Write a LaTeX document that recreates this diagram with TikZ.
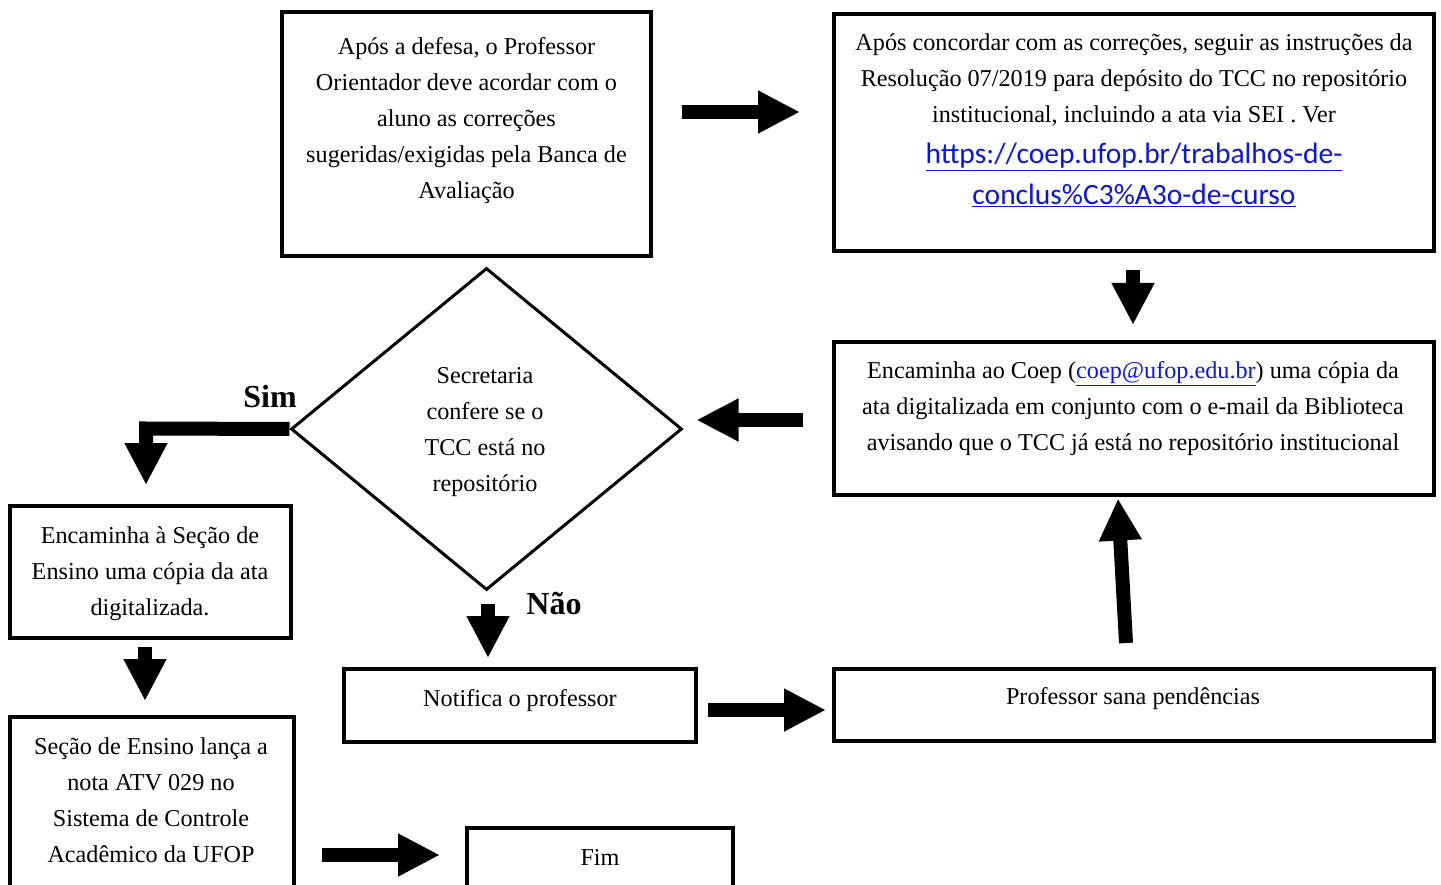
\documentclass[tikz,border=0pt]{standalone}
\usepackage{fontspec}
\setmainfont{Liberation Serif}
\newfontfamily\linkfont{Carlito}
\usetikzlibrary{arrows.meta,shapes.geometric,calc}
\definecolor{linkblue}{RGB}{10,20,230}
\tikzset{
  box/.style={draw, line width=4pt, inner sep=0pt},
  txt/.style={align=center, inner sep=0pt, font=\fontsize{24.2}{36}\selectfont},
  lbl/.style={inner sep=0pt, font=\fontsize{32}{36}\selectfont\bfseries},
  bigarrow/.style={line width=14pt, line join=miter, -{Triangle[length=42pt,width=40pt]}},
}
\begin{document}
\begin{tikzpicture}[x=1pt,y=-1pt]
\useasboundingbox (0,0) rectangle (1441,885);
\clip (0,0) rectangle (1441,885);
% boxes
\node[box, minimum width=369pt, minimum height=244pt] (A) at (466.5,134) {};
\node[box, minimum width=600pt, minimum height=237pt] (B) at (1134,132.5) {};
\node[draw, diamond, line width=3pt, inner sep=0pt, minimum width=391pt, minimum height=322pt] (S) at (486.5,429) {};
\node[box, minimum width=600pt, minimum height=153pt] (C) at (1134,418.5) {};
\node[box, minimum width=281pt, minimum height=132pt] (D) at (150.5,572) {};
\node[box, minimum width=284pt, minimum height=200pt] (E) at (152,817) {};
\node[box, minimum width=352pt, minimum height=73pt] (F) at (520,705.5) {};
\node[box, minimum width=600pt, minimum height=72pt] (G) at (1134,705) {};
\node[box, minimum width=266pt, minimum height=100pt] (H) at (600,878) {};
% texts
\node[txt] (tA) at (466.5,120.5) {Após a defesa, o Professor\\Orientador deve acordar com o\\aluno as correções\\sugeridas/exigidas pela Banca de\\Avaliação};
\node[txt] (tB) at (1134,79.5) {Após concordar com as correções, seguir as instruções da\\Resolução 07/2019 para depósito do TCC no repositório\\institucional, incluindo a ata via SEI . Ver};
\node[align=center, inner sep=0pt, font=\linkfont\fontsize{29.5}{41}\selectfont, text=linkblue] (tB2) at (1134,175) {\underline{https://coep.ufop.br/trabalhos-de-}\\\underline{conclus\%C3\%A3o-de-curso}};
\node[txt] (tS) at (485,432.5) {Secretaria\\confere se o\\TCC está no\\repositório};
\node[txt] (tC) at (1133,409) {Encaminha ao Coep (\textcolor{linkblue}{\underline{coep@ufop.edu.br}}) uma cópia da\\ata digitalizada em conjunto com o e-mail da Biblioteca\\avisando que o TCC já está no repositório institucional};
\node[txt] (tD) at (150,574) {Encaminha à Seção de\\Ensino uma cópia da ata\\digitalizada.};
\node[txt] (tE) at (151,800) {Seção de Ensino lança a\\nota ATV 029 no\\Sistema de Controle\\Acadêmico da UFOP};
\node[txt] (tF) at (520,701) {Notifica o professor};
\node[txt] (tG) at (1133,699) {Professor sana pendências};
\node[txt] (tH) at (600,857) {Fim};
\node[lbl] (sim) at (270,397) {Sim};
\node[lbl] (nao) at (554,604) {Não};
% connector end points
\coordinate (ab1) at ($(A.east)+(29,-22)$);
\coordinate (ab2) at ($(B.west)+(-32,-20.5)$);
\coordinate (bc1) at ($(B.south)+(-1,17)$);
\coordinate (bc2) at ($(C.north)+(-1,-15)$);
\coordinate (cs1) at ($(C.west)+(-29,1.5)$);
\coordinate (cs2) at ($(S.east)+(13,-9)$);
\coordinate (simc) at (146,428.5);
\coordinate (sd) at ($(D.north)+(-4.5,-19)$);
\coordinate (sf1) at ($(S.south)+(1.5,12)$);
\coordinate (sf2) at ($(F.north)+(-32,-9)$);
\coordinate (fg1) at ($(F.east)+(10,4.5)$);
\coordinate (fg2) at ($(G.west)+(-6,5)$);
\coordinate (gc1) at ($(G.north)+(-8,-24)$);
\coordinate (gc2) at ($(C.south)+(-16,1.5)$);
\coordinate (de1) at ($(D.south)+(-5.5,7)$);
\coordinate (de2) at ($(E.north)+(-7,-14)$);
\coordinate (eh1) at ($(E.east)+(26,38)$);
\coordinate (eh2) at ($(H.west)+(-25,-23)$);
% arrows
\draw[bigarrow] (ab1) -- (ab2);
\draw[bigarrow] (bc1) -- (bc2);
\draw[bigarrow] (cs1) -- (cs2);
\draw[bigarrow] (S.west) -- (simc) -- (sd);
\draw[bigarrow] (sf1) -- (sf2);
\draw[bigarrow] (fg1) -- (fg2);
\draw[bigarrow] (gc1) -- (gc2);
\draw[bigarrow] (de1) -- (de2);
\draw[bigarrow] (eh1) -- (eh2);
\end{tikzpicture}
\end{document}
